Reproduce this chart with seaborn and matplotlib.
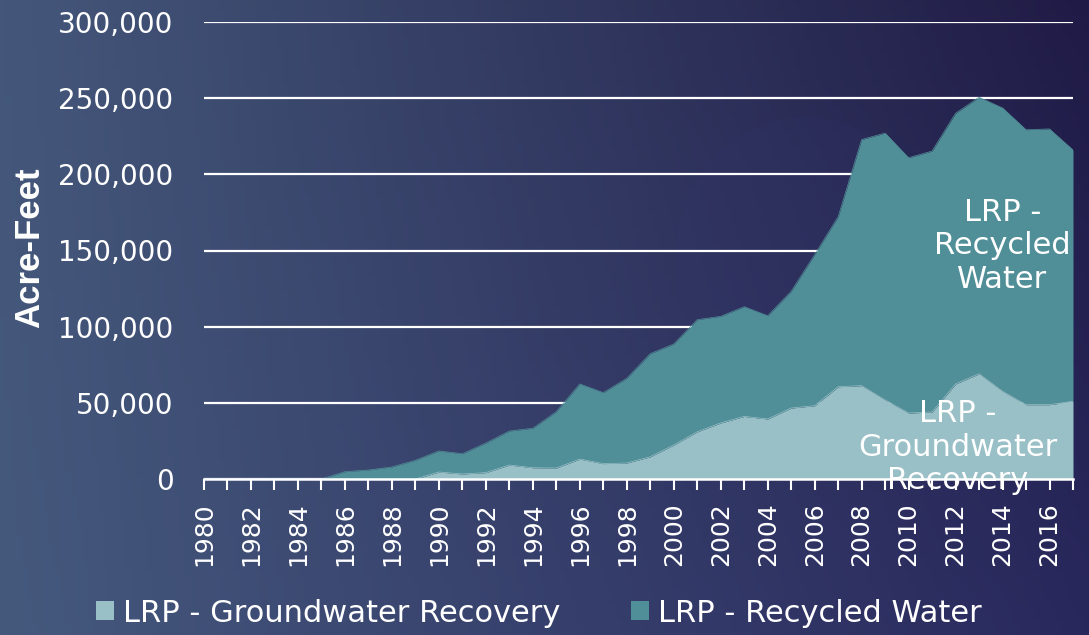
import numpy as np
import pandas as pd
import matplotlib
matplotlib.use("Agg")
import matplotlib.pyplot as plt
from matplotlib.patches import Patch, Ellipse
from matplotlib.ticker import FuncFormatter, FixedLocator, NullFormatter
from matplotlib.colors import to_rgb
import matplotlib.transforms as mtransforms
import seaborn as sns

years = list(range(1980, 2018))
groundwater = [0, 0, 0, 0, 0, 0, 0, 0, 0, 0,
               4600, 3300, 4200, 9200, 7400, 7200, 13100, 10100, 10500, 14600,
               22300, 31000, 36800, 41100, 39400, 46600, 48100, 60600, 61300, 51900,
               43300, 44000, 62400, 69100, 57600, 48800, 48800, 51000]
total = [0, 0, 0, 0, 0, 0, 4800, 5900, 7900, 12300,
         18400, 16600, 23600, 31500, 33300, 44200, 62400, 56700, 66100, 82300,
         88600, 104600, 106800, 113100, 107200, 123200, 147300, 172200, 222800, 227100,
         210900, 215300, 240100, 250600, 243600, 229300, 229800, 216000]
recycled = [t - g for t, g in zip(total, groundwater)]
series_names = ["LRP - Groundwater Recovery", "LRP - Recycled Water"]
y_ticks = [0, 50000, 100000, 150000, 200000, 250000, 300000]
label_years = [y for y in years if y % 2 == 0]

df = pd.DataFrame({"year": years, "gw": groundwater, "total": total})

sns.set_theme(style="white")
plt.rcParams["font.family"] = ["DejaVu Sans"]

W, H = 1089, 635
fig = plt.figure(figsize=(W / 100, H / 100), dpi=100)

# background gradient
bg = fig.add_axes([0, 0, 1, 1], zorder=-10)
tl, tr = np.array(to_rgb("#44577A")), np.array(to_rgb("#201B46"))
bl, br = np.array(to_rgb("#45597D")), np.array(to_rgb("#29285D"))
xx = np.linspace(0, 1, 200)[None, :, None]
yy = np.linspace(0, 1, 120)[:, None, None]
img = (1 - yy) * ((1 - xx) * tl + xx * tr) + yy * ((1 - xx) * bl + xx * br)
bg.imshow(img, aspect="auto", extent=[0, 1, 1, 0])
bg.set_xlim(0, 1); bg.set_ylim(1, 0)
bg.axis("off")
bg.add_patch(Ellipse((805 / W, 262 / H), 260 / W, 290 / H,
                     facecolor="#34346A", alpha=0.2, edgecolor="none"))

left, right, top, bottom = 204, 1073, 22, 479
ax = fig.add_axes([left / W, 1 - bottom / H, (right - left) / W, (bottom - top) / H])
ax.patch.set_alpha(0)

c_gw = "#98C0C6"
c_rw = "#508F98"

ax.fill_between(df["year"], 0, df["gw"], color=c_gw, linewidth=0, zorder=3)
ax.fill_between(df["year"], df["gw"], df["total"], color=c_rw, linewidth=0, zorder=3)
sns.lineplot(data=df, x="year", y="gw", ax=ax, color=c_gw, linewidth=0.5, zorder=4)
sns.lineplot(data=df, x="year", y="total", ax=ax, color=c_rw, linewidth=0.5, zorder=4)

ax.set_xlim(1980, 2017)
ax.set_ylim(0, 300000)
ax.yaxis.set_major_locator(FixedLocator(y_ticks))
ax.yaxis.set_major_formatter(FuncFormatter(lambda v, p: f"{int(v):,}"))
ax.grid(axis="y", color="white", linewidth=1.6, zorder=1)
ax.grid(axis="x", visible=False)
ax.set_axisbelow(True)

ax.xaxis.set_major_locator(FixedLocator(years))
ax.xaxis.set_major_formatter(NullFormatter())
ax.tick_params(axis="x", which="major", colors="white",
               direction="out", length=8, width=1.5, bottom=True, labelbottom=False)
ax.tick_params(axis="y", colors="white", labelcolor="white", length=0, pad=22, labelsize=20)

# year labels (every other year), rotated, positioned on the x axis scale
trans = mtransforms.blended_transform_factory(ax.transData, ax.transAxes)
offset = mtransforms.ScaledTranslation(0, -23 / 100, fig.dpi_scale_trans)
for yr in label_years:
    ax.text(yr, 0, str(yr), transform=trans + offset, rotation=90, color="white",
            fontsize=18, ha="center", va="top", clip_on=False)

for s in ["left", "right", "top"]:
    ax.spines[s].set_visible(False)
ax.spines["bottom"].set_color("white")
ax.spines["bottom"].set_linewidth(1.8)
ax.spines["bottom"].set_zorder(5)

ax.set_xlabel("")
ax.set_ylabel("")
fig.text(30 / W, 1 - 248 / H, "Acre-Feet", rotation=90, color="white",
         fontsize=25, fontweight="bold", family="Liberation Sans",
         ha="center", va="center")

ax.text(2014.0, 153000, "LRP -\nRecycled\nWater", color="white", fontsize=22,
        ha="center", va="center", linespacing=1.2, zorder=6)
ax.text(2012.1, 21000, "LRP -\nGroundwater\nRecovery", color="white", fontsize=22,
        ha="center", va="center", linespacing=1.2, zorder=6)

handles = [Patch(facecolor=c_gw, edgecolor="none"), Patch(facecolor=c_rw, edgecolor="none")]
leg = fig.legend(handles, series_names, loc="center", bbox_to_anchor=(539 / W, 1 - 613 / H),
                 ncol=2, frameon=False, fontsize=22, handlelength=0.6, handleheight=0.6,
                 handletextpad=0.3, columnspacing=2.3)
for t in leg.get_texts():
    t.set_color("white")

fig.savefig("out.png", dpi=100)
